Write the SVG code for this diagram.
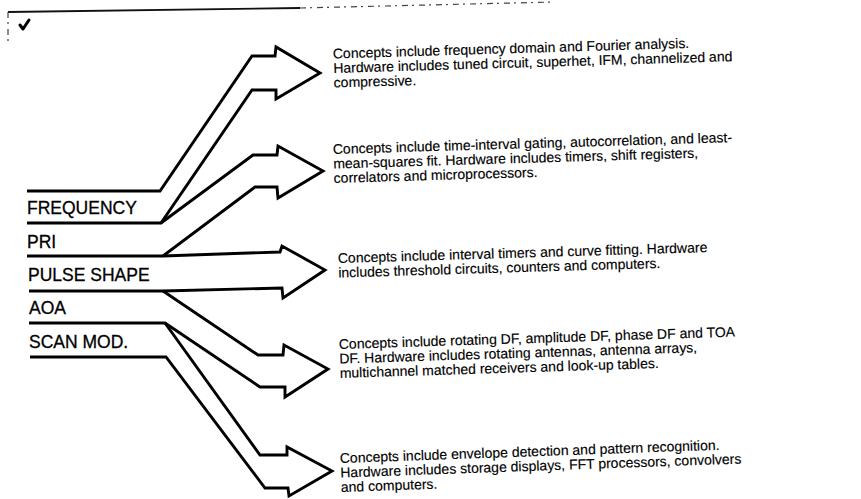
<svg xmlns="http://www.w3.org/2000/svg" width="861" height="499" viewBox="0 0 861 499">
  <style>
    .bg { fill: #ffffff; }
    .arrow { fill: none; stroke: #000; stroke-width: 2.9; stroke-linejoin: miter; stroke-linecap: butt; }
    .label { font-family: "Liberation Sans", Arial, sans-serif; font-size: 17.5px; fill: #000; stroke: #000; stroke-width: 0.3; }
    .desc { font-family: "Liberation Sans", Arial, sans-serif; font-size: 14px; fill: #000; stroke: #000; stroke-width: 0.15; }
    .frame { fill: none; stroke: #111; stroke-width: 1.8; }
    .frame-dash { fill: none; stroke: #444; stroke-width: 1.2; stroke-dasharray: 6 4 2 5; }
  </style>

  <rect class="bg" x="0" y="0" width="861" height="499"/>

  <!-- page frame remnants and tick mark in the upper-left corner -->
  <g id="frame">
    <path class="frame" d="M8,12 L300,8"/>
    <path class="frame-dash" d="M300,8 L555,2"/>
    <path class="frame-dash" d="M8,12 L8,44"/>
    <path d="M20,25 L23,29 L29,20" fill="none" stroke="#000" stroke-width="3" stroke-linecap="round" stroke-linejoin="round"/>
  </g>

  <!-- open arrows fanning out from the parameter bands -->
  <g id="connectors">
    <path id="arrow-frequency" class="arrow" d="M27,191 H160 L252,56 H275 L276,47 L320,73 L276,99 L276,90 H252 L161,223 H27"/>
    <path id="arrow-pri" class="arrow" d="M161,223 L253,155 H277 L278,146 L323,171 L278,198 L277,187 H255 L163,256"/>
    <path id="arrow-pulse-shape" class="arrow" d="M27,256 L163,256 L280,252 L282,246 L325,270 L283,298 L282,288 L163,291 H29"/>
    <path id="arrow-aoa" class="arrow" d="M163,291 L258,355 H283 L284,345 L328,369 L285,397 L285,387 H260 L165,323 H29"/>
    <path id="arrow-scan-mod" class="arrow" d="M165,323 L260,455 H287 L287,447 L332,471 L289,496 L288,488 H265 L166,357 H30"/>
  </g>

  <!-- parameter labels -->
  <g id="label-frequency"><text class="label" x="27" y="214">FREQUENCY</text></g>
  <g id="label-pri"><text class="label" x="27" y="248">PRI</text></g>
  <g id="label-pulse-shape"><text class="label" x="28" y="281">PULSE SHAPE</text></g>
  <g id="label-aoa"><text class="label" x="29" y="314">AOA</text></g>
  <g id="label-scan-mod"><text class="label" x="29" y="348">SCAN MOD.</text></g>

  <!-- descriptions at the arrow heads -->
  <g id="desc-frequency" transform="rotate(-1.7 333 58.5)">
    <text class="desc" x="333" y="58.5">Concepts include frequency domain and Fourier analysis.</text>
    <text class="desc" x="333" y="73">Hardware includes tuned circuit, superhet, IFM, channelized and</text>
    <text class="desc" x="333" y="87.5">compressive.</text>
  </g>
  <g id="desc-pri" transform="rotate(-1.7 333 154)">
    <text class="desc" x="333" y="154">Concepts include time-interval gating, autocorrelation, and least-</text>
    <text class="desc" x="333" y="168.5">mean-squares fit. Hardware includes timers, shift registers,</text>
    <text class="desc" x="333" y="183">correlators and microprocessors.</text>
  </g>
  <g id="desc-pulse-shape" transform="rotate(-1.7 338 263)">
    <text class="desc" x="338" y="263">Concepts include interval timers and curve fitting. Hardware</text>
    <text class="desc" x="338" y="277.5">includes threshold circuits, counters and computers.</text>
  </g>
  <g id="desc-aoa" transform="rotate(-1.8 339 349)">
    <text class="desc" x="339" y="349">Concepts include rotating DF, amplitude DF, phase DF and TOA</text>
    <text class="desc" x="339" y="363.5">DF. Hardware includes rotating antennas, antenna arrays,</text>
    <text class="desc" x="339" y="378">multichannel matched receivers and look-up tables.</text>
  </g>
  <g id="desc-scan-mod" transform="rotate(-2 340 463)">
    <text class="desc" x="340" y="463">Concepts include envelope detection and pattern recognition.</text>
    <text class="desc" x="340" y="477.5">Hardware includes storage displays, FFT processors, convolvers</text>
    <text class="desc" x="340" y="492">and computers.</text>
  </g>
</svg>
